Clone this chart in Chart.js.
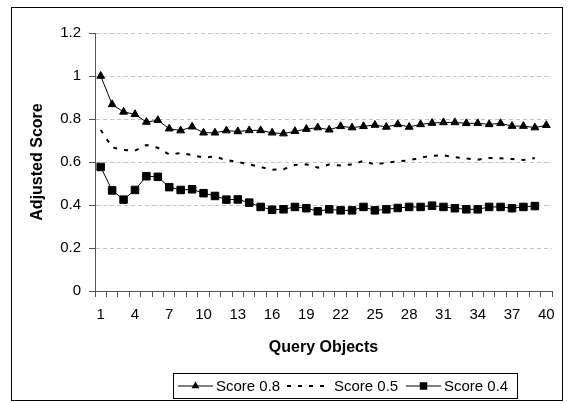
<!DOCTYPE html>
<html><head><meta charset="utf-8">
<script src="https://cdn.jsdelivr.net/npm/chart.js@4.4.1/dist/chart.umd.min.js"></script>
<style>html,body{margin:0;padding:0;background:#fff;}canvas{display:block;}</style>
</head><body>
<canvas id="c" width="573" height="403"></canvas>
<script>
const categories = ['1','2','3','4','5','6','7','8','9','10','11','12','13','14','15','16','17','18','19','20','21','22','23','24','25','26','27','28','29','30','31','32','33','34','35','36','37','38','39','40'];
const shownTicks = ['1','4','7','10','13','16','19','22','25','28','31','34','37','40'];
const score08 = [1.0,0.868,0.833,0.822,0.786,0.794,0.755,0.746,0.764,0.736,0.736,0.746,0.742,0.747,0.747,0.736,0.732,0.743,0.753,0.760,0.750,0.766,0.760,0.766,0.772,0.763,0.775,0.763,0.775,0.781,0.784,0.784,0.780,0.780,0.775,0.780,0.767,0.767,0.760,0.771];
const score05 = [0.749,0.668,0.656,0.653,0.679,0.666,0.635,0.642,0.632,0.621,0.625,0.609,0.600,0.589,0.577,0.564,0.566,0.586,0.589,0.574,0.588,0.584,0.589,0.605,0.588,0.597,0.603,0.608,0.620,0.629,0.631,0.623,0.616,0.611,0.619,0.617,0.614,0.609,0.619];
const score04 = [0.577,0.468,0.425,0.470,0.534,0.531,0.483,0.470,0.473,0.455,0.442,0.425,0.426,0.411,0.391,0.378,0.380,0.391,0.385,0.371,0.380,0.375,0.375,0.391,0.375,0.380,0.386,0.391,0.391,0.397,0.391,0.385,0.380,0.380,0.391,0.391,0.385,0.391,0.395];
const seriesNames = ['Score 0.8','Score 0.5','Score 0.4'];
const yTitle = 'Adjusted Score';
const xTitle = 'Query Objects';

const FONT = 'Liberation Sans, Arial, sans-serif';

const framePlugin = {
  id: 'frame',
  beforeDraw(chart) {
    const ctx = chart.ctx;
    ctx.save();
    ctx.fillStyle = '#fff';
    ctx.fillRect(0, 0, chart.width, chart.height);
    ctx.restore();
  },
  afterDraw(chart) {
    const ctx = chart.ctx;
    ctx.save();
    ctx.strokeStyle = '#000';
    ctx.lineWidth = 1;
    ctx.strokeRect(11.5, 7.5, 551, 393);
    const bx = 173.5, by = 373.5, bw = 344, bh = 25;
    ctx.strokeRect(bx, by, bw, bh);
    const cy = by + bh / 2;
    const starts = [178, 287, 406];
    const lens = [35, 44, 35];
    ctx.font = '15px ' + FONT;
    ctx.textBaseline = 'middle';
    ctx.textAlign = 'left';
    chart.data.datasets.forEach((ds, i) => {
      const x0 = starts[i];
      const len = lens[i];
      ctx.save();
      ctx.strokeStyle = ds.borderColor;
      ctx.lineWidth = ds.borderWidth;
      ctx.setLineDash(ds.borderDash || []);
      ctx.beginPath();
      ctx.moveTo(x0, cy);
      ctx.lineTo(x0 + len, cy);
      ctx.stroke();
      ctx.restore();
      if (ds.pointRadius > 0) {
        const mx = x0 + len / 2;
        ctx.fillStyle = ds.pointBackgroundColor;
        ctx.beginPath();
        if (ds.pointStyle === 'triangle') {
          const r = ds.pointRadius;
          ctx.moveTo(mx, cy - r);
          ctx.lineTo(mx + r * 0.87, cy + r * 0.5);
          ctx.lineTo(mx - r * 0.87, cy + r * 0.5);
          ctx.closePath();
        } else {
          const s = ds.pointRadius * Math.SQRT1_2;
          ctx.rect(mx - s, cy - s, 2 * s, 2 * s);
        }
        ctx.fill();
      }
      ctx.fillStyle = '#000';
      ctx.fillText(ds.label, x0 + len + 3, cy + 1);
    });
    ctx.restore();
  }
};

new Chart(document.getElementById('c'), {
  type: 'line',
  data: {
    labels: categories,
    datasets: [
      { label: seriesNames[0], data: score08, borderColor: '#000', backgroundColor: '#000', borderWidth: 1,
        pointStyle: 'triangle', pointRadius: 4.5, pointBackgroundColor: '#000', pointBorderColor: '#000', pointBorderWidth: 1, tension: 0 },
      { label: seriesNames[1], data: score05, borderColor: '#000', backgroundColor: '#000', borderWidth: 2, borderDash: [4, 7],
        pointRadius: 0, pointBackgroundColor: '#000', tension: 0 },
      { label: seriesNames[2], data: score04, borderColor: '#000', backgroundColor: '#000', borderWidth: 1,
        pointStyle: 'rect', pointRadius: 5.3, pointBackgroundColor: '#000', pointBorderColor: '#000', pointBorderWidth: 1, tension: 0 }
    ]
  },
  options: {
    responsive: false,
    animation: false,
    devicePixelRatio: 1,
    layout: { padding: { left: 0, right: 21, top: 33, bottom: 0 } },
    plugins: { legend: { display: false }, tooltip: { enabled: false } },
    scales: {
      x: {
        type: 'category',
        offset: true,
        afterFit(scale) { scale.height = 112; },
        grid: { display: true, drawOnChartArea: false, drawTicks: true, offset: true, tickLength: 6, tickColor: '#555', tickWidth: 1 },
        border: { display: true, color: '#555', width: 1 },
        ticks: {
          autoSkip: false, maxRotation: 0, minRotation: 0, padding: 9, color: '#000',
          font: { family: FONT, size: 15 },
          callback(v, i) { const l = categories[i]; return shownTicks.includes(l) ? l : ''; }
        },
        title: { display: true, text: xTitle, color: '#000', font: { family: FONT, size: 16, weight: 'bold' }, padding: { top: 0, bottom: 46 } }
      },
      y: {
        min: 0, max: 1.2,
        afterFit(scale) { scale.width = 95; },
        grid: {
          color: (c) => (c.tick && c.tick.value === 0) ? 'rgba(0,0,0,0)' : '#c4c4c4',
          lineWidth: 1, tickLength: 6, tickColor: '#555', tickWidth: 1
        },
        border: { display: true, color: '#555', width: 1, dash: [4, 3] },
        ticks: { stepSize: 0.2, padding: 8, color: '#000', font: { family: FONT, size: 15 },
          callback(v) { return Number(v.toFixed(1)).toString(); } },
        title: { display: true, text: yTitle, color: '#000', font: { family: FONT, size: 16, weight: 'bold' }, padding: { top: 28, bottom: 0 } }
      }
    }
  },
  plugins: [framePlugin]
});
</script>
</body></html>
